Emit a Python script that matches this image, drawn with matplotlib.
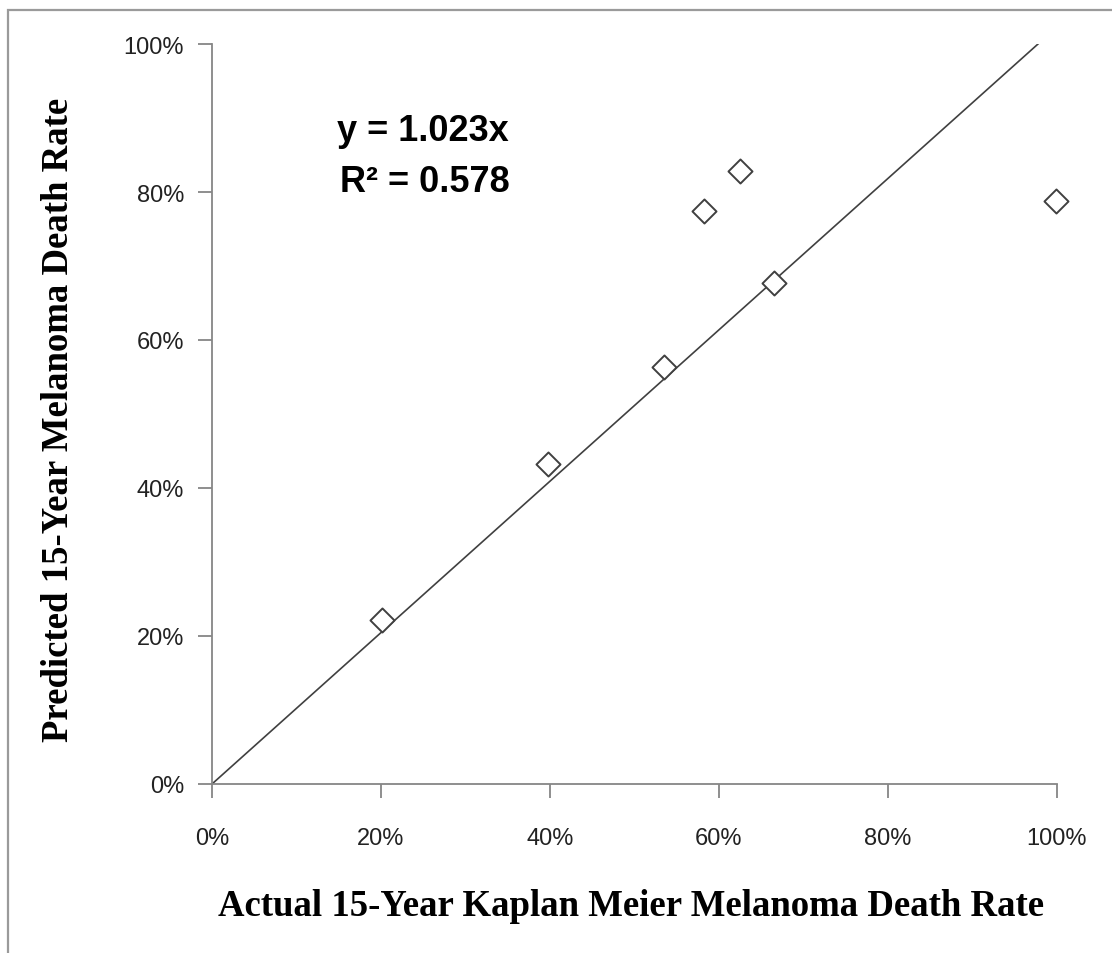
import numpy as np
import matplotlib
matplotlib.use('Agg')
import matplotlib.pyplot as plt
import matplotlib.ticker as mticker
from matplotlib.patches import Rectangle

# Actual vs predicted 15-year death rates (fractions)
actual = [0.201, 0.398, 0.535, 0.582, 0.625, 0.665, 0.999]
predicted = [0.222, 0.432, 0.564, 0.774, 0.828, 0.677, 0.788]
slope = 1.023
eq_text = "y = 1.023x"
r2_text = "R² = 0.578"
xlabel = "Actual 15-Year Kaplan Meier Melanoma Death Rate"
ylabel = "Predicted 15-Year Melanoma Death Rate"
ticks = [0, 0.2, 0.4, 0.6, 0.8, 1.0]

W, H = 1112, 954
fig = plt.figure(figsize=(W / 100, H / 100), dpi=100)
fig.patch.set_facecolor('white')

# chart-area border (right/bottom edges fall outside the picture)
fig.add_artist(Rectangle((8 / W, -0.1), 1.2, 1 - 11 / H + 0.1,
                         transform=fig.transFigure, fill=False,
                         edgecolor='#9a9a9a', linewidth=1.6))

left, right, top, bottom = 212, 1057, 45, 785
ax = fig.add_axes([left / W, 1 - bottom / H, (right - left) / W, (bottom - top) / H])

ax.set_xlim(0, 1)
ax.set_ylim(0, 1)

xs = np.array([0, 1 / slope])
ax.plot(xs, slope * xs, color='#404040', linewidth=1.2, zorder=2)
ax.scatter(actual, predicted, marker='D', s=150, facecolor='white',
           edgecolor='#404040', linewidths=1.4, zorder=3, clip_on=False)

for s in ['top', 'right']:
    ax.spines[s].set_visible(False)
for s in ['left', 'bottom']:
    ax.spines[s].set_color('#868686')
    ax.spines[s].set_linewidth(1.3)

ax.set_xticks(ticks)
ax.set_yticks(ticks)
ax.xaxis.set_major_formatter(mticker.PercentFormatter(1.0, decimals=0))
ax.yaxis.set_major_formatter(mticker.PercentFormatter(1.0, decimals=0))
ax.tick_params(direction='out', length=10, width=1.3, color='#868686',
               labelsize=17, labelcolor='#222222')
ax.tick_params(axis='x', pad=21)
ax.tick_params(axis='y', pad=10)
for lab in ax.get_xticklabels() + ax.get_yticklabels():
    lab.set_family('Liberation Sans')

fig.text(631 / W, 1 - 907 / H, xlabel, family='Liberation Serif',
         fontweight='bold', fontsize=26.5, ha='center', va='center')
fig.text(59 / W, 1 - 420 / H, ylabel, family='Liberation Serif',
         fontweight='bold', fontsize=26.5, ha='center', va='center',
         rotation=90)

ax.text(0.148, 0.883, eq_text, transform=ax.transAxes, fontsize=26,
        fontweight='bold', family='Liberation Sans', va='center')
ax.text(0.151, 0.814, r2_text, transform=ax.transAxes, fontsize=26,
        fontweight='bold', family='Liberation Sans', va='center')

fig.savefig('out.png', dpi=100)
